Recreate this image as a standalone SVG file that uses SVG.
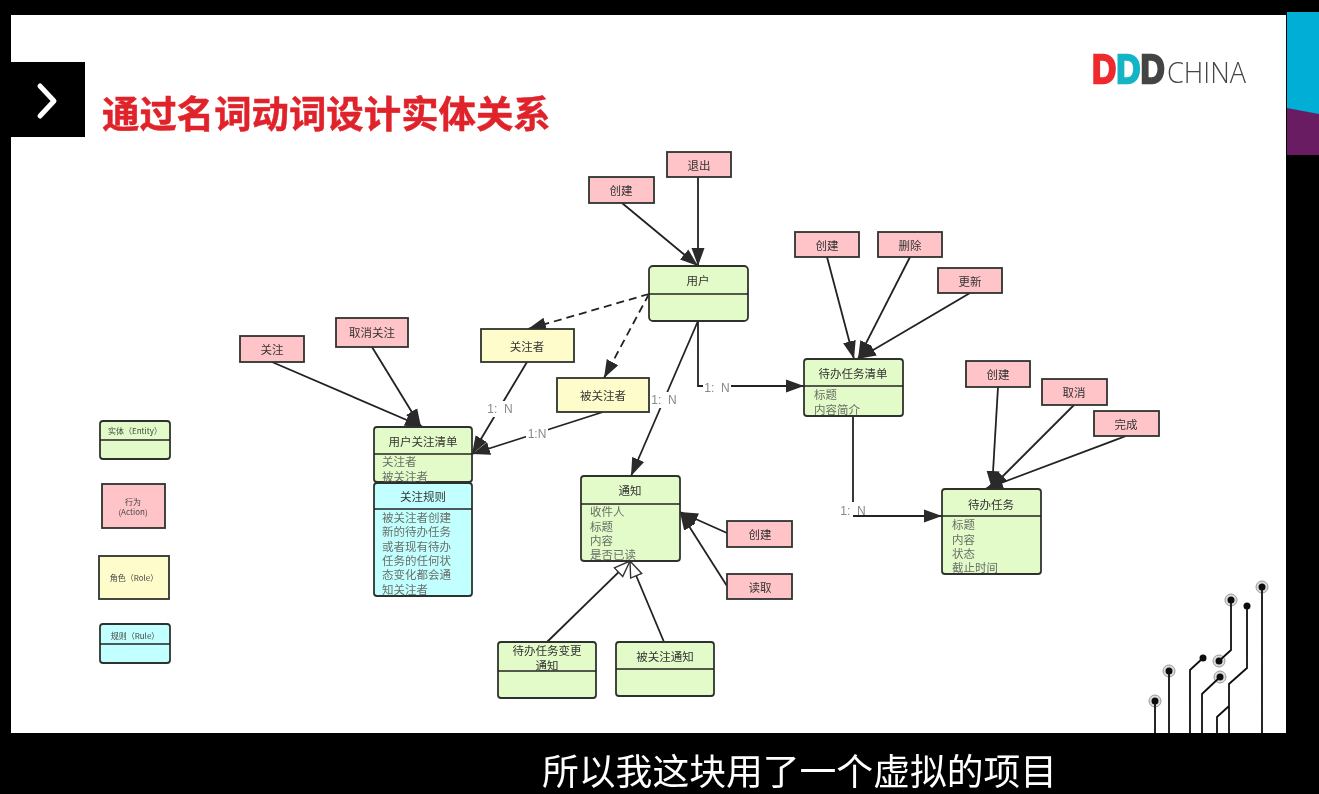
<svg xmlns="http://www.w3.org/2000/svg" width="1319" height="794" viewBox="0 0 1319 794">
<style>
text{font-family:"Noto Sans CJK SC","Liberation Sans",sans-serif}
.b{stroke:#2f332f;stroke-width:1.8}
.e{fill:#e2fbc8}.a{fill:#ffc4c8}.r{fill:#fffccc}.u{fill:#c2ffff}
.d{stroke:#222;stroke-width:1.6;fill:none}
.t{font-size:11.5px;fill:#333;text-anchor:middle}
.m{font-size:11.5px;fill:#6a6f68}
.s{font-size:8px;fill:#444;text-anchor:middle}
.c{stroke:#222;stroke-width:1.8;fill:none}
.f{marker-end:url(#fa)}
.h{marker-end:url(#ha)}
.k{stroke-dasharray:8 5}
.l{font-family:"Liberation Sans",sans-serif;font-size:12px;fill:#888;text-anchor:middle}
.lb{fill:#fff}
.w{stroke:#111;stroke-width:1.8;fill:none}
.p{fill:#111}
.g{fill:#ddd;stroke:#999;stroke-width:1}
.o{fill:#111}
.lg{font-family:"Liberation Sans",sans-serif;font-size:41px;font-weight:700;stroke-width:2.4}
</style>
<defs>
<filter id="soft" x="0" y="0" width="100%" height="100%"><feGaussianBlur stdDeviation="0.45"/></filter>
<marker id="fa" markerUnits="userSpaceOnUse" markerWidth="20" markerHeight="16" refX="18" refY="8" orient="auto"><path d="M0 1.5 L18 8 L0 14.5 Z" fill="#2a2a2a"/></marker>
<marker id="ha" markerUnits="userSpaceOnUse" markerWidth="20" markerHeight="16" refX="17" refY="8" orient="auto"><path d="M1 2 L17 8 L1 14 Z" fill="#fff" stroke="#333" stroke-width="1.4"/></marker>
</defs>
<rect width="1319" height="794" fill="#000"/>
<g filter="url(#soft)">
<rect x="11" y="15" width="1275" height="718" fill="#fff"/>
<rect x="1287" y="12" width="32" height="143" fill="#6b1f63"/>
<path d="M1287 12H1319V114L1287 108Z" fill="#00aed6"/>
<rect x="11" y="62" width="74" height="75" fill="#000"/>
<path d="M40 86 L54 101 L40 116" fill="none" stroke="#fff" stroke-width="5" stroke-linecap="round" stroke-linejoin="round"/>
<text x="102" y="128" font-size="37.4" font-weight="700" fill="#e0242a" stroke="#e0242a" stroke-width="0.5">通过名词动词设计实体关系</text>
<g id="logo">
<text class="lg" transform="translate(1092 83) scale(.82 1)"><tspan fill="#ee2a2e" stroke="#ee2a2e">D</tspan><tspan fill="#12b5c6" stroke="#12b5c6">D</tspan><tspan fill="#444" stroke="#444">D</tspan></text>
<text x="1167" y="83" font-size="29" font-weight="300" fill="#444" textLength="79" lengthAdjust="spacingAndGlyphs" style="font-family:'Open Sans',sans-serif">CHINA</text>
</g>
<g id="circuit">
<circle class="g" cx="1155" cy="701" r="6"/><circle class="g" cx="1169" cy="671" r="6"/><circle class="g" cx="1220" cy="677" r="6"/><circle class="g" cx="1219" cy="661" r="6"/><circle class="g" cx="1231" cy="600" r="6"/><circle class="g" cx="1262" cy="587" r="6"/>
<path class="w" d="M1155 733V701M1169 733V671M1190 733V670L1203 658M1202 733V694L1220 677M1229 733V684L1247 668V606M1217 733V717L1229 706M1219 661L1231 650V600M1262 733V587"/>
<circle class="o" cx="1155" cy="701" r="3.5"/><circle class="o" cx="1169" cy="671" r="3.5"/><circle class="p" cx="1203" cy="658" r="3.5"/><circle class="o" cx="1220" cy="677" r="3.5"/><circle class="p" cx="1247" cy="606" r="3.5"/><circle class="o" cx="1219" cy="661" r="3.5"/><circle class="o" cx="1231" cy="600" r="3.5"/><circle class="o" cx="1262" cy="587" r="3.5"/>
</g>
<g id="connectors">
<path class="c f" d="M622 203L698 266"/>
<path class="c f" d="M698 177V266"/>
<path class="c f" d="M827 257L854 359"/>
<path class="c f" d="M910 257L858 359"/>
<path class="c f" d="M970 293L858 359"/>
<path class="c f" d="M272 362L423 427"/>
<path class="c f" d="M372 347L421 427"/>
<path class="c f k" d="M649 294L528 329"/>
<path class="c f k" d="M649 294L604 378"/>
<path class="c f" d="M527 362L472 454"/>
<path class="c f" d="M603 412L472 454"/>
<path class="c f" d="M698 321L631 476"/>
<path class="c f" d="M698 321V386H804"/>
<path class="c f" d="M853 416V502M853 516H942"/>
<rect class="lb" x="486" y="401" width="28" height="16"/>
<rect class="lb" x="526" y="427" width="22" height="14"/>
<rect class="lb" x="650" y="392" width="28" height="16"/>
<rect class="lb" x="703" y="380" width="28" height="14"/>
<text class="l" x="500" y="413">1:&#160;&#160;N</text>
<text class="l" x="537" y="438">1:N</text>
<text class="l" x="664" y="404">1:&#160;&#160;N</text>
<text class="l" x="717" y="392">1:&#160;&#160;N</text>
<text class="l" x="853" y="515">1:&#160;&#160;N</text>
<path class="c f" d="M998 387L992 489"/>
<path class="c f" d="M1074 405L990 489"/>
<path class="c f" d="M1126 436L985 489"/>
<path class="c f" d="M727 533L680 512"/>
<path class="c f" d="M727 586L680 512"/>
<path class="c h" d="M547 642L630 561"/>
<path class="c h" d="M664 642L630 561"/>
</g>
<g id="legend-entity"><rect class="e b" x="100" y="421" width="70" height="38" rx="3"/><path class="d" d="M100 440H170"/><text class="s" x="135" y="434">实体（Entity）</text></g>
<g id="legend-action"><rect class="a b" x="102" y="484" width="63" height="44"/><text class="s" x="133" y="505">行为</text><text class="s" x="133" y="515">(Action)</text></g>
<g id="legend-role"><rect class="r b" x="99" y="556" width="70" height="43"/><text class="s" x="134" y="581">角色（Role）</text></g>
<g id="legend-rule"><rect class="u b" x="100" y="624" width="70" height="39" rx="3"/><path class="d" d="M100 644H170"/><text class="s" x="135" y="639">规则（Rule）</text></g>
<g id="n-follow-list"><rect class="e b" x="374" y="427" width="98" height="55" rx="3"/><path class="d" d="M374 454H472"/><text class="t" x="423" y="446">用户关注清单</text><text class="m" x="382" y="466">关注者</text><text class="m" x="382" y="481">被关注者</text></g>
<g id="n-follow-rule"><rect class="u b" x="374" y="483" width="98" height="113" rx="3"/><path class="d" d="M374 509H472"/><text class="t" x="423" y="501">关注规则</text><text class="m" x="382" y="522">被关注者创建</text><text class="m" x="382" y="536">新的待办任务</text><text class="m" x="382" y="551">或者现有待办</text><text class="m" x="382" y="565">任务的任何状</text><text class="m" x="382" y="579">态变化都会通</text><text class="m" x="382" y="594">知关注者</text></g>
<g id="n-user"><rect class="e b" x="649" y="266" width="99" height="55" rx="4"/><path class="d" d="M649 294H748"/><text class="t" x="698" y="285">用户</text></g>
<g id="n-follower"><rect class="r b" x="481" y="329" width="93" height="33"/><text class="t" x="527" y="351">关注者</text></g>
<g id="n-followee"><rect class="r b" x="557" y="378" width="92" height="34"/><text class="t" x="603" y="400">被关注者</text></g>
<g id="n-notice"><rect class="e b" x="581" y="476" width="99" height="85" rx="3"/><path class="d" d="M581 504H680"/><text class="t" x="630" y="495">通知</text><text class="m" x="590" y="516">收件人</text><text class="m" x="590" y="531">标题</text><text class="m" x="590" y="545">内容</text><text class="m" x="590" y="559">是否已读</text></g>
<g id="n-notice-create"><rect class="a b" x="727" y="521" width="65" height="26"/><text class="t" x="760" y="539">创建</text></g>
<g id="n-notice-read"><rect class="a b" x="727" y="574" width="65" height="25"/><text class="t" x="760" y="592">读取</text></g>
<g id="n-task-change"><rect class="e b" x="498" y="642" width="98" height="56" rx="3"/><path class="d" d="M498 671H596"/><text class="t" x="547" y="655">待办任务变更</text><text class="t" x="547" y="670">通知</text></g>
<g id="n-follow-notice"><rect class="e b" x="616" y="642" width="98" height="54" rx="3"/><path class="d" d="M616 669H714"/><text class="t" x="665" y="661">被关注通知</text></g>
<g id="n-task-list"><rect class="e b" x="804" y="359" width="99" height="57" rx="3"/><path class="d" d="M804 386H903"/><text class="t" x="853" y="378">待办任务清单</text><text class="m" x="814" y="399">标题</text><text class="m" x="814" y="414">内容简介</text></g>
<g id="n-task"><rect class="e b" x="942" y="489" width="99" height="85" rx="3"/><path class="d" d="M942 516H1041"/><text class="t" x="991" y="509">待办任务</text><text class="m" x="952" y="529">标题</text><text class="m" x="952" y="544">内容</text><text class="m" x="952" y="558">状态</text><text class="m" x="952" y="572">截止时间</text></g>
<g id="n-user-create"><rect class="a b" x="589" y="177" width="65" height="26"/><text class="t" x="621" y="195">创建</text></g>
<g id="n-user-exit"><rect class="a b" x="667" y="152" width="64" height="25"/><text class="t" x="699" y="170">退出</text></g>
<g id="n-list-create"><rect class="a b" x="795" y="232" width="64" height="25"/><text class="t" x="827" y="250">创建</text></g>
<g id="n-list-delete"><rect class="a b" x="878" y="232" width="64" height="25"/><text class="t" x="910" y="250">删除</text></g>
<g id="n-list-update"><rect class="a b" x="938" y="268" width="64" height="25"/><text class="t" x="970" y="286">更新</text></g>
<g id="n-follow"><rect class="a b" x="240" y="336" width="64" height="26"/><text class="t" x="272" y="354">关注</text></g>
<g id="n-unfollow"><rect class="a b" x="336" y="318" width="72" height="29"/><text class="t" x="372" y="337">取消关注</text></g>
<g id="n-task-create"><rect class="a b" x="966" y="361" width="64" height="26"/><text class="t" x="998" y="379">创建</text></g>
<g id="n-task-cancel"><rect class="a b" x="1042" y="379" width="65" height="26"/><text class="t" x="1074" y="397">取消</text></g>
<g id="n-task-done"><rect class="a b" x="1094" y="411" width="65" height="25"/><text class="t" x="1126" y="429">完成</text></g>
<text x="542" y="785" font-size="36.8" fill="#fff">所以我这块用了一个虚拟的项目</text>
</g>
</svg>
